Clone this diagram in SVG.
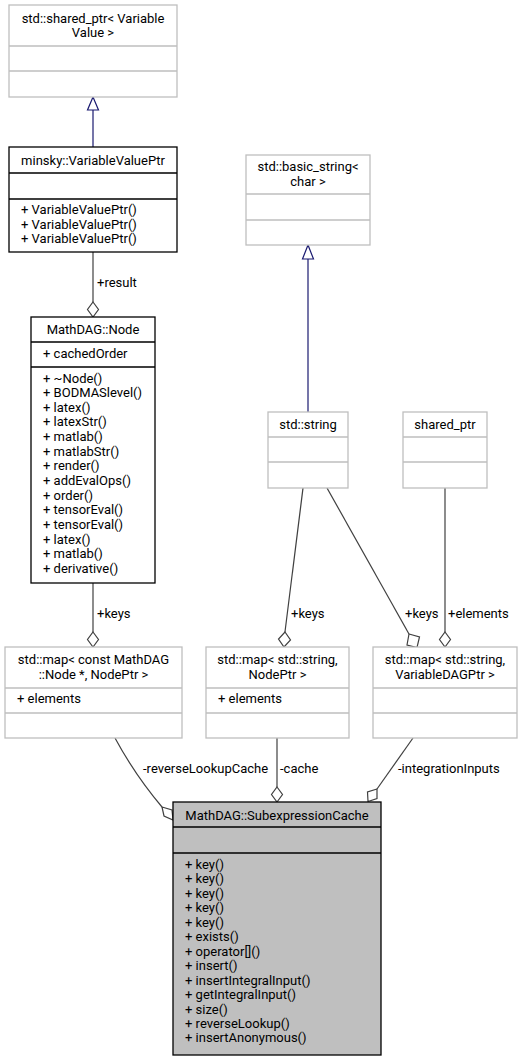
<svg xmlns="http://www.w3.org/2000/svg" width="523" height="1060" viewBox="0 0 523 1060">
<style>
text{font-family:Roboto,"Liberation Sans",sans-serif;font-size:13px;fill:#000}
.c{text-anchor:middle}
.g{fill:#fff;stroke:#bfbfbf;stroke-width:1.3}
.b{fill:#fff;stroke:#000;stroke-width:1.3}
.m{fill:#bfbfbf;stroke:#000;stroke-width:1.3}
.dg{stroke:#bfbfbf;stroke-width:1.3}
.db{stroke:#000;stroke-width:1.3}
.e{fill:none;stroke:#404040;stroke-width:1.2}
.ah{fill:#fff;stroke:#404040;stroke-width:1.2}
.inh{fill:none;stroke:#191970;stroke-width:1.2}
.tri{fill:#fff;stroke:#191970;stroke-width:1.2}
</style>
<rect width="523" height="1060" fill="#fff"/>
<g id="edges">
<path class="inh" d="M93,110V147"/>
<polygon class="tri" points="93,97 87.5,110 98.5,110"/>
<path class="inh" d="M308,259V412"/>
<polygon class="tri" points="308,245 302.5,259 313.5,259"/>
<path class="e" d="M93,252V302"/>
<polygon class="ah" points="93,302 98.5,309.5 93,317 87.5,309.5"/>
<text x="97" y="287">+result</text>
<path class="e" d="M93,583V632"/>
<polygon class="ah" points="93,632 98.5,639.5 93,647 87.5,639.5"/>
<text x="97" y="618">+keys</text>
<path class="e" d="M303,488L285,632"/>
<polygon class="ah" points="285,632 290.5,640 284,647 278.5,639"/>
<text x="291" y="618">+keys</text>
<path class="e" d="M327,488L409,634"/>
<polygon class="ah" points="409,634 419.5,637 417,647.5 407,645"/>
<text x="405" y="618">+keys</text>
<path class="e" d="M445,488V632"/>
<polygon class="ah" points="445,632 450.5,639.5 445,647 439.5,639.5"/>
<text x="448" y="618">+elements</text>
<path class="e" d="M115,738Q135,775 162,807"/>
<polygon class="ah" points="162,807 172,810 173,820 164,816"/>
<text x="143" y="773">-reverseLookupCache</text>
<path class="e" d="M277,738V787"/>
<polygon class="ah" points="277,787 282.5,794.5 277,802 271.5,794.5"/>
<text x="280" y="773">-cache</text>
<path class="e" d="M413,738L377,789"/>
<polygon class="ah" points="377,789 377,798.5 368,801.5 367.5,792"/>
<text x="398" y="773">-integrationInputs</text>
</g>
<g id="n_shared_ptr_vv">
<rect class="g" x="9" y="5" width="168" height="92"/>
<path class="dg" d="M9,46H177M9,71H177"/>
<text class="c" x="93" y="22.5">std::shared_ptr&lt; Variable</text>
<text class="c" x="93" y="37">Value &gt;</text>
</g>
<g id="n_VariableValuePtr">
<rect class="b" x="9" y="147" width="168" height="105"/>
<path class="db" d="M9,173H177M9,199H177"/>
<text class="c" x="93" y="165">minsky::VariableValuePtr</text>
<text x="21" y="214">+ VariableValuePtr()</text>
<text x="21" y="228.5">+ VariableValuePtr()</text>
<text x="21" y="243">+ VariableValuePtr()</text>
</g>
<g id="n_Node">
<rect class="b" x="31" y="317" width="124" height="266"/>
<path class="db" d="M31,342H155M31,367H155"/>
<text class="c" x="93" y="334">MathDAG::Node</text>
<text x="43" y="358">+ cachedOrder</text>
<text x="43" y="382.5">+ ~Node()</text>
<text x="43" y="397.2">+ BODMASlevel()</text>
<text x="43" y="411.8">+ latex()</text>
<text x="43" y="426.4">+ latexStr()</text>
<text x="43" y="441">+ matlab()</text>
<text x="43" y="455.7">+ matlabStr()</text>
<text x="43" y="470.3">+ render()</text>
<text x="43" y="485">+ addEvalOps()</text>
<text x="43" y="499.6">+ order()</text>
<text x="43" y="514.2">+ tensorEval()</text>
<text x="43" y="528.9">+ tensorEval()</text>
<text x="43" y="543.5">+ latex()</text>
<text x="43" y="558.1">+ matlab()</text>
<text x="43" y="572.8">+ derivative()</text>
</g>
<g id="n_basic_string">
<rect class="g" x="246" y="155" width="124" height="90"/>
<path class="dg" d="M246,194H370M246,220H370"/>
<text class="c" x="308" y="171">std::basic_string&lt;</text>
<text class="c" x="308" y="185.5">char &gt;</text>
</g>
<g id="n_string">
<rect class="g" x="268" y="412" width="80" height="76"/>
<path class="dg" d="M268,437H348M268,462H348"/>
<text class="c" x="308" y="428.5">std::string</text>
</g>
<g id="n_shared_ptr">
<rect class="g" x="403" y="412" width="84" height="76"/>
<path class="dg" d="M403,437H487M403,462H487"/>
<text class="c" x="445" y="428.5">shared_ptr</text>
</g>
<g id="n_map_node">
<rect class="g" x="5" y="647" width="177" height="91"/>
<path class="dg" d="M5,688H182M5,713H182"/>
<text class="c" x="93.5" y="664">std::map&lt; const MathDAG</text>
<text class="c" x="93.5" y="678.5">::Node *, NodePtr &gt;</text>
<text x="17" y="703">+ elements</text>
</g>
<g id="n_map_string_node">
<rect class="g" x="206" y="647" width="143" height="91"/>
<path class="dg" d="M206,688H349M206,713H349"/>
<text class="c" x="277.5" y="664">std::map&lt; std::string,</text>
<text class="c" x="277.5" y="678.5">NodePtr &gt;</text>
<text x="218" y="703">+ elements</text>
</g>
<g id="n_map_string_var">
<rect class="g" x="373" y="647" width="144" height="91"/>
<path class="dg" d="M373,688H517M373,713H517"/>
<text class="c" x="445" y="664">std::map&lt; std::string,</text>
<text class="c" x="445" y="678.5">VariableDAGPtr &gt;</text>
</g>
<g id="n_SubexpressionCache">
<rect class="m" x="173" y="802" width="208" height="253"/>
<path class="db" d="M173,827H381M173,853H381"/>
<text class="c" x="277" y="820">MathDAG::SubexpressionCache</text>
<text x="185" y="869">+ key()</text>
<text x="185" y="883.4">+ key()</text>
<text x="185" y="897.9">+ key()</text>
<text x="185" y="912.3">+ key()</text>
<text x="185" y="926.8">+ key()</text>
<text x="185" y="941.2">+ exists()</text>
<text x="185" y="955.7">+ operator[]()</text>
<text x="185" y="970.1">+ insert()</text>
<text x="185" y="984.6">+ insertIntegralInput()</text>
<text x="185" y="999">+ getIntegralInput()</text>
<text x="185" y="1013.5">+ size()</text>
<text x="185" y="1027.9">+ reverseLookup()</text>
<text x="185" y="1042.4">+ insertAnonymous()</text>
</g>
</svg>
